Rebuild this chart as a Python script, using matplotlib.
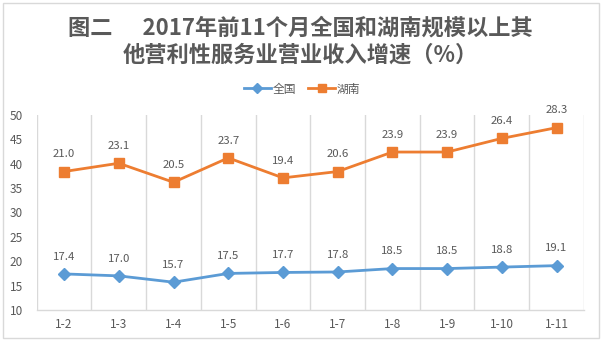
import numpy as np
import matplotlib
matplotlib.use('Agg')
import matplotlib.pyplot as plt
from matplotlib.patches import Rectangle

plt.rcParams['font.family'] = ['Noto Sans CJK SC', 'DejaVu Sans']

# Data
periods = ['1-2', '1-3', '1-4', '1-5', '1-6', '1-7', '1-8', '1-9', '1-10', '1-11']
national = [17.4, 17.0, 15.7, 17.5, 17.7, 17.8, 18.5, 18.5, 18.8, 19.1]
hunan = [21.0, 23.1, 20.5, 23.7, 19.4, 20.6, 23.9, 23.9, 26.4, 28.3]

title_line1 = '图二      2017年前11个月全国和湖南规模以上其'
title_line2 = '他营利性服务业营业收入增速（%）'

blue = '#5B9BD5'
orange = '#ED7D31'
text_gray = '#595959'
grid_gray = '#D9D9D9'

fig = plt.figure(figsize=(6.02, 3.59), dpi=100)
ax = fig.add_axes([0.061, 0.1365, 0.909, 0.5432])

x = np.arange(len(periods))
# the original is a stacked line chart: Hunan sits on top of the national series
stacked = np.array(national) + np.array(hunan)

ax.plot(x, national, color=blue, lw=2, marker='D', markersize=6, zorder=3)
ax.plot(x, stacked, color=orange, lw=2, marker='s', markersize=7, zorder=3)

for xi, yi, v in zip(x, national, national):
    ax.annotate(f'{v:.1f}', (xi, yi), xytext=(0, 12.5), textcoords='offset points',
                ha='center', va='center', fontsize=8.2, color=text_gray)
for xi, yi, v in zip(x, stacked, hunan):
    ax.annotate(f'{v:.1f}', (xi, yi), xytext=(0, 12.5), textcoords='offset points',
                ha='center', va='center', fontsize=8.2, color=text_gray)

ax.set_xlim(-0.5, len(periods) - 0.5)
ax.set_ylim(10, 50)
ax.set_yticks(np.arange(10, 51, 5))
ax.set_xticks(x)
ax.set_xticklabels(periods)
ax.tick_params(axis='both', length=0, labelsize=8.5, labelcolor=text_gray)
ax.tick_params(axis='y', pad=10)
ax.tick_params(axis='x', pad=6)

# vertical gridlines at category boundaries
for b in np.arange(-0.5, len(periods), 1.0):
    ax.axvline(b, color=grid_gray, lw=1, zorder=1)

for s in ['top', 'right', 'left']:
    ax.spines[s].set_visible(False)
ax.spines['bottom'].set_color(grid_gray)
ax.spines['bottom'].set_linewidth(1)

# legend
handles = [
    plt.Line2D([], [], color=blue, lw=2, marker='D', markersize=5),
    plt.Line2D([], [], color=orange, lw=2, marker='s', markersize=6),
]
fig.legend(handles, ['全国', '湖南'], loc='center', bbox_to_anchor=(0.502, 0.752),
           ncol=2, frameon=False, fontsize=8.5, handlelength=2.3, handletextpad=0.15,
           columnspacing=1.0, labelcolor=text_gray)

# title
fig.text(0.499, 0.922, title_line1, ha='center', va='center', fontsize=16,
         fontweight='bold', color=text_gray)
fig.text(0.499, 0.846, title_line2, ha='center', va='center', fontsize=16,
         fontweight='bold', color=text_gray)

# outer frame
fig.patches.append(Rectangle((0.0042, 0.0585), 0.991, 0.933, transform=fig.transFigure,
                             fill=False, edgecolor=grid_gray, lw=1))

fig.savefig('out.png', dpi=100)
